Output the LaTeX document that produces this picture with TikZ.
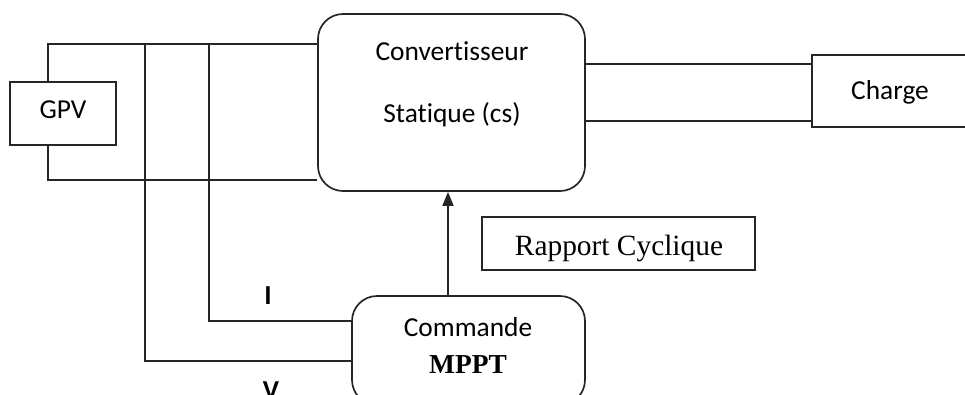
\documentclass[tikz,border=0pt]{standalone}
\usepackage{fontspec}
\setmainfont{Liberation Serif}
\newfontfamily\calib[Ligatures=NoCommon]{Carlito}
\usetikzlibrary{arrows.meta}
\begin{document}
\begin{tikzpicture}[x=1bp,y=-1bp,
  wire/.style={line width=1.7bp,draw=black!85},
  block/.style={wire,rectangle,inner sep=0pt},
  rblock/.style={wire,rectangle,rounded corners=25bp,inner sep=0pt},
  lbl/.style={font=\calib\fontsize{27.5}{31}\selectfont,inner sep=0pt},
  blbl/.style={font=\calib\bfseries\fontsize{27.5}{31}\selectfont,inner sep=0pt},
  serif/.style={font=\fontsize{29.5}{33}\selectfont,inner sep=0pt}]
\useasboundingbox (0,0) rectangle (965,394);
\clip (0,0) rectangle (965,394);

% blocks
\node[block,minimum width=106bp,minimum height=63bp] (gpv) at (63,113.5) {};
\node[rblock,minimum width=267bp,minimum height=177bp] (cs) at (451.5,102.5) {};
\node[block,minimum width=163bp,minimum height=72bp] (charge) at (893.5,91) {};
\node[block,minimum width=273bp,minimum height=53bp] (rc) at (618.5,243.5) {};
\node[rblock,minimum width=233bp,minimum height=109bp] (mppt) at (468.5,350.5) {};

% texts
\node[lbl] (tgpv) at (63,110) {GPV};
\node[lbl] (tcs1) at (452,51) {Convertisseur};
\node[lbl,anchor=base] (tcs2) at (452,122) {Statique (cs)};
\node[lbl] (tch) at (890,92) {Charge};
\node[serif,anchor=base] (trc) at (619,255) {Rapport Cyclique};
\node[lbl] (tcmd) at (468,327) {Commande};
\node[serif,font=\bfseries\fontsize{27.5}{31}\selectfont,anchor=base] (tmppt) at (468,373) {MPPT};
\node[blbl] (ti) at (268,296) {I};
\node[blbl] (tv) at (271,391) {V};

% junction points
\coordinate (gt) at (48,44);
\coordinate (gb) at (48,180);
\coordinate (j1) at (145,44);
\coordinate (j2) at (209,44);
\coordinate (j1b) at (145,361);
\coordinate (j2b) at (209,321);

% connections
\draw[wire] (gpv.north -| gt) -- (gt) -- (gt -| cs.west);
\draw[wire] (gpv.south -| gb) -- (gb) -- (gb -| cs.west);
\draw[wire] (j1) -- (j1b) -- (j1b -| mppt.west);
\draw[wire] (j2) -- (j2b) -- (j2b -| mppt.west);
\draw[wire] (cs.east |- 0,64) -- (charge.west |- 0,64);
\draw[wire] (cs.east |- 0,121) -- (charge.west |- 0,121);
\draw[wire,-{Triangle[length=14bp,width=11bp]}] (mppt.north -| 448,0) -- (cs.south -| 448,0);
\end{tikzpicture}
\end{document}
